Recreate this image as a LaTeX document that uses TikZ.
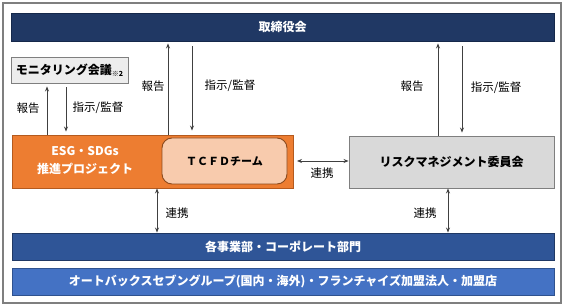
\documentclass[tikz,border=0pt]{standalone}
\usepackage{fontspec}
\setmainfont{Noto Sans CJK JP}
\usetikzlibrary{arrows.meta}
\definecolor{navy}{HTML}{203864}
\definecolor{navyb}{HTML}{15284A}
\definecolor{orng}{HTML}{ED7D31}
\definecolor{orngb}{HTML}{B45A1E}
\definecolor{peach}{HTML}{F8CBAD}
\definecolor{peachb}{HTML}{8A4A1E}
\definecolor{midblue}{HTML}{2F5597}
\definecolor{midblueb}{HTML}{1F3864}
\definecolor{ltblue}{HTML}{4472C4}
\definecolor{ltblueb}{HTML}{2F528F}
\definecolor{lgray}{HTML}{EDEDED}
\definecolor{mgray}{HTML}{D9D9D9}
\definecolor{bgray}{HTML}{7F7F7F}
\tikzset{
  box/.style={draw, line width=0.9pt, inner sep=0pt, font=\fontsize{12}{14}\selectfont\bfseries},
  lbl/.style={inner sep=0pt, font=\fontsize{11.5}{13}\selectfont},
  conn/.style={line width=0.8pt, draw=black!75, -{Stealth[length=5pt,width=4pt]}},
  dconn/.style={line width=0.8pt, draw=black!75, {Stealth[length=5pt,width=4pt]}-{Stealth[length=5pt,width=4pt]}}
}
\begin{document}
\begin{tikzpicture}[x=1pt,y=-1pt]
\useasboundingbox (0,0) rectangle (567,307);
\draw[bgray, line width=1.2pt] (3,3) rectangle (561,303);
\node[box, fill=navy, draw=navyb, text=white, minimum width=543pt, minimum height=28pt] (board) at (282.5,27) {取締役会};
\node[box, fill=lgray, draw=bgray, minimum width=117pt, minimum height=26pt] (mon) at (69.5,70) {モニタリング会議\raisebox{-1.5pt}{\fontsize{7}{8}\selectfont ※2}};
\node[box, fill=orng, draw=orngb, minimum width=281pt, minimum height=53pt] (esg) at (152.5,161.5) {};
\node[inner sep=0pt, text=white, align=center, font=\fontsize{12}{18}\selectfont\bfseries] (esgt) at (85,161) {ESG・SDGs\\推進プロジェクト};
\node[box, fill=peach, draw=peachb, rounded corners=10pt, minimum width=125pt, minimum height=46pt, font=\fontsize{11}{13}\selectfont\bfseries] (tcfd) at (224.5,161) {ＴＣＦＤチーム};
\node[box, fill=mgray, draw=bgray, minimum width=205pt, minimum height=52pt] (risk) at (451.5,162) {リスクマネジメント委員会};
\node[box, fill=midblue, draw=midblueb, text=white, minimum width=542pt, minimum height=27pt] (dept) at (283,246.5) {各事業部・コーポレート部門};
\node[box, fill=ltblue, draw=ltblueb, text=white, minimum width=542pt, minimum height=27pt] (group) at (283,281.5) {オートバックスセブングループ(国内・海外)・フランチャイズ加盟法人・加盟店};
% columns
\coordinate (c1) at (47,0);
\coordinate (c2) at (66,0);
\coordinate (c3) at (168,0);
\coordinate (c4) at (192,0);
\coordinate (c5) at (438,0);
\coordinate (c6) at (462,0);
\coordinate (c7) at (157,0);
\coordinate (c8) at (448,0);
\coordinate (h1) at (297,161);
% arrows
\draw[conn, shorten >=3pt] (c1 |- esg.north) -- (c1 |- mon.south);
\draw[conn, shorten <=4pt, shorten >=3pt] (c2 |- mon.south) -- (c2 |- esg.north);
\draw[conn, shorten >=2pt] (c3 |- esg.north) -- (c3 |- board.south);
\draw[conn, shorten <=5pt, shorten >=4pt] (c4 |- board.south) -- (c4 |- esg.north);
\draw[conn, shorten >=2pt] (c5 |- risk.north) -- (c5 |- board.south);
\draw[conn, shorten <=5pt, shorten >=3pt] (c6 |- board.south) -- (c6 |- risk.north);
\draw[dconn] (h1) -- (h1 -| risk.west);
\draw[dconn] (c7 |- esg.south) -- (c7 |- dept.north);
\draw[dconn] (c8 |- risk.south) -- (c8 |- dept.north);
% labels
\node[lbl] (l1) at (28,108) {報告};
\node[lbl] (l2) at (98,108) {指示/監督};
\node[lbl] (l3) at (153,86) {報告};
\node[lbl] (l4) at (230,86) {指示/監督};
\node[lbl] (l5) at (412,86) {報告};
\node[lbl] (l6) at (496,88) {指示/監督};
\node[lbl] (l7) at (322,173) {連携};
\node[lbl] (l8) at (177,213) {連携};
\node[lbl] (l9) at (425,213) {連携};
\end{tikzpicture}
\end{document}
